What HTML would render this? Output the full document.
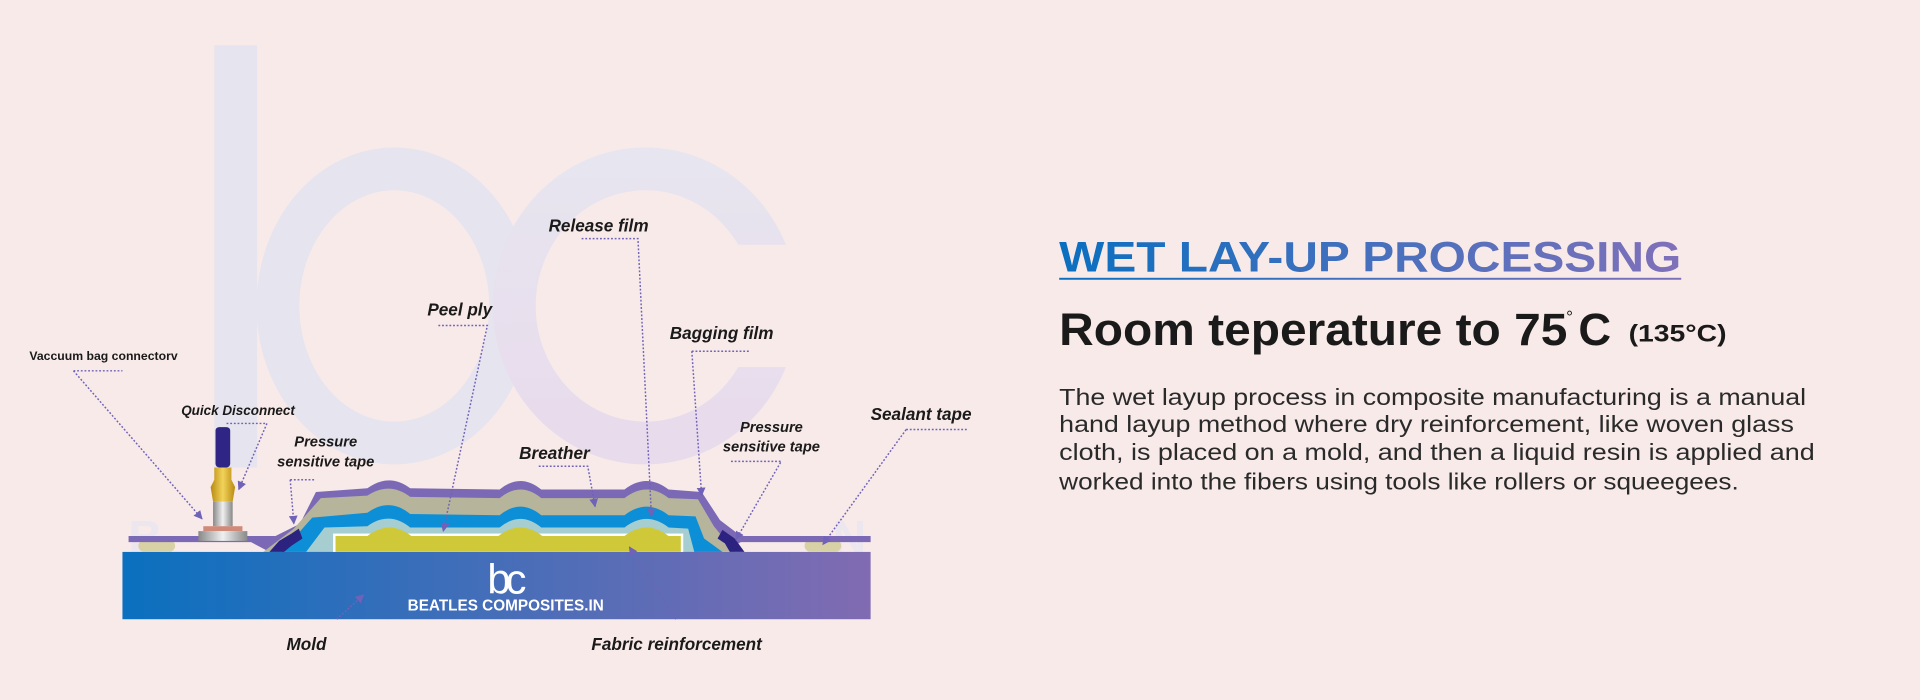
<!DOCTYPE html>
<html><head><meta charset="utf-8"><style>
html,body{margin:0;padding:0;background:#f8eae9;}
svg{display:block}
text{font-family:"Liberation Sans",Arial,sans-serif;}
.lb{font-weight:bold;font-style:italic;fill:#1a1a1a;}
.ld{stroke:#6f62b8;stroke-width:1.2;stroke-dasharray:1.5 1.5;fill:none;}
</style></head><body>
<svg width="1920" height="700" viewBox="0 0 1568 572" preserveAspectRatio="none" xmlns="http://www.w3.org/2000/svg">
<defs>
<linearGradient id="mg" x1="0" x2="1"><stop offset="0" stop-color="#0a70bf"/><stop offset="1" stop-color="#816bb2"/></linearGradient>
<linearGradient id="tg" x1="0" x2="1"><stop offset="0" stop-color="#0a6fc0"/><stop offset="1" stop-color="#8070ba"/></linearGradient>
<linearGradient id="gold" x1="0" x2="1"><stop offset="0" stop-color="#b88a10"/><stop offset="0.5" stop-color="#f2d35a"/><stop offset="1" stop-color="#b88a10"/></linearGradient>
<linearGradient id="silv" x1="0" x2="1"><stop offset="0" stop-color="#888"/><stop offset="0.5" stop-color="#f0f0f0"/><stop offset="1" stop-color="#888"/></linearGradient>
<linearGradient id="cg" x1="0" y1="0" x2="0" y2="1"><stop offset="0" stop-color="#e7e5ef"/><stop offset="1" stop-color="#e8dbec"/></linearGradient>
<marker id="ar" viewBox="0 0 10 10" refX="9" refY="5" markerWidth="6" markerHeight="6" orient="auto"><path d="M0,0 L10,5 L0,10 z" fill="#6f62b8"/></marker>
</defs>
<rect width="1568" height="572" fill="#f8eae9"/>
<!-- watermark -->
<rect x="175" y="37" width="35" height="345" fill="#e6e4ee"/>
<ellipse cx="322" cy="250" rx="95" ry="112" fill="none" stroke="#e6e4ee" stroke-width="35"/>
<ellipse cx="527" cy="250" rx="107" ry="112" fill="none" stroke="url(#cg)" stroke-width="35"/>
<rect x="600" y="200" width="60" height="100" fill="#f8eae9"/>
<text x="105" y="452" font-size="38" fill="#ece6ee" font-weight="bold">B</text>
<text x="680" y="452" font-size="38" fill="#ece6ee" font-weight="bold">N</text>
<!-- mold -->
<rect x="100" y="451" width="611" height="55" fill="url(#mg)"/>
<text x="398" y="485" font-size="34" fill="#fff" font-weight="300" letter-spacing="-4">bc</text>
<text x="413" y="499" font-size="12.5" fill="#fff" font-weight="bold" text-anchor="middle">BEATLES COMPOSITES.IN</text>
<!-- sealant tape -->
<rect x="113" y="441" width="30" height="10" rx="5" fill="#d9d1a6"/>
<rect x="657" y="441" width="30" height="10" rx="5" fill="#d9d1a6"/>
<!-- bag film + breather -->
<path d="M105,438 L225,438 L245,428 L258,402 L300,399 Q318,386 335,399 L408,400 Q425,386 442,400 L510,400 Q528,386 546,400 L573,402 L588,425 L605,438 L711,438 L711,443 L605,443 L590,451 L220,451 L205,443 L105,443 Z" fill="#7c69b6"/>
<path d="M215,451 L240,432 L262,407 L300,405 Q318,393 335,406 L408,407 Q425,393 442,407 L510,407 Q528,393 546,407 L570,408 L583,430 L600,451 Z" fill="#b6b49b"/>
<!-- release film -->
<path d="M230,451 L255,423 L300,419 Q318,406 335,420 L408,421 Q425,407 442,421 L510,421 Q528,407 546,421 L568,422 L575,440 L590,451 Z" fill="#0c8fd6"/>
<!-- peel ply -->
<path d="M250,451 L265,431 L300,430 Q318,417 335,431 L408,431 Q425,417 442,431 L510,431 Q528,417 546,431 L562,432 L567,451 Z" fill="#a6cdd0"/>
<!-- fabric -->
<rect x="272" y="436" width="286" height="15" fill="#fff"/>
<path d="M274,451 L274,438 L300,438 Q318,424 336,438 L407,438 Q425,424 443,438 L510,438 Q528,424 546,438 L556,438 L556,451 Z" fill="#cfc93a"/>
<!-- pressure tapes -->
<path d="M220,451 L228,442 L238,436 L244,432 L247,440 L238,446 L232,451 Z" fill="#2c2280"/>
<path d="M590,433 L600,440 L608,451 L596,451 L592,444 L586,440 Z" fill="#2c2280"/>
<!-- quick disconnect -->
<rect x="176" y="349" width="12" height="33" rx="3" fill="#2e2585"/>
<path d="M175,382 L189,382 L189,392 L192,398 L190,410 L174,410 L172,398 L175,392 Z" fill="url(#gold)"/>
<rect x="174" y="410" width="16" height="20" fill="url(#silv)"/>
<rect x="166" y="430" width="32" height="4" fill="#d08a7a"/>
<rect x="162" y="434" width="40" height="8" fill="url(#silv)"/>
<!-- leaders -->
<g class="ld">
<path d="M60,303 L100,303"/><path d="M60,303 L165,424" marker-end="url(#ar)"/>
<path d="M185,346 L218,346 L195,400" marker-end="url(#ar)"/>
<path d="M237,392 L257,392"/><path d="M237,392 L240,428" marker-end="url(#ar)"/>
<path d="M358,266 L398,266 L362,434" marker-end="url(#ar)"/>
<path d="M475,195 L521,195 L532,422" marker-end="url(#ar)"/>
<path d="M565,287 L612,287"/><path d="M565,287 L573,405" marker-end="url(#ar)"/>
<path d="M440,381 L480,381 L486,414" marker-end="url(#ar)"/>
<path d="M597,377 L638,377 L601,441" marker-end="url(#ar)"/>
<path d="M740,351 L790,351"/><path d="M740,351 L672,445" marker-end="url(#ar)"/>
<path d="M275,506 L297,486" marker-end="url(#ar)"/>
<path d="M552,506 L514,447" marker-end="url(#ar)"/>
</g>
<!-- labels -->
<text x="24" y="294" font-size="10" font-weight="bold" fill="#1a1a1a">Vaccuum bag connectorv</text>
<text x="148" y="339" font-size="11" class="lb">Quick Disconnect</text>
<text x="266" y="365" font-size="12" class="lb" text-anchor="middle">Pressure</text>
<text x="266" y="381" font-size="12" class="lb" text-anchor="middle">sensitive tape</text>
<text x="349" y="258" font-size="14" class="lb">Peel ply</text>
<text x="448" y="189" font-size="14" class="lb">Release film</text>
<text x="547" y="277" font-size="14" class="lb">Bagging film</text>
<text x="424" y="375" font-size="14" class="lb">Breather</text>
<text x="630" y="353" font-size="12" class="lb" text-anchor="middle">Pressure</text>
<text x="630" y="369" font-size="12" class="lb" text-anchor="middle">sensitive tape</text>
<text x="711" y="343" font-size="14" class="lb">Sealant tape</text>
<text x="234" y="531" font-size="14" class="lb">Mold</text>
<text x="483" y="531" font-size="14" class="lb">Fabric reinforcement</text>
<!-- right text -->
<text x="865" y="222" font-size="35" font-weight="bold" fill="url(#tg)" textLength="508" lengthAdjust="spacingAndGlyphs">WET LAY-UP PROCESSING</text>
<rect x="865" y="227" width="508" height="1.6" fill="url(#tg)"/>
<text x="865" y="282" font-size="37" font-weight="bold" fill="#1a1a1a" textLength="415" lengthAdjust="spacingAndGlyphs">Room teperature to 75</text>
<text x="1279" y="264" font-size="14" fill="#1a1a1a">°</text>
<text x="1289" y="282" font-size="37" font-weight="bold" fill="#1a1a1a">C</text>
<text x="1330" y="279" font-size="20" font-weight="bold" fill="#1a1a1a" textLength="80" lengthAdjust="spacingAndGlyphs">(135°C)</text>
<g font-size="19" fill="#2a2a2a">
<text x="865" y="331" textLength="610" lengthAdjust="spacingAndGlyphs">The wet layup process in composite manufacturing is a manual</text>
<text x="865" y="353" textLength="600" lengthAdjust="spacingAndGlyphs">hand layup method where dry reinforcement, like woven glass</text>
<text x="865" y="376" textLength="617" lengthAdjust="spacingAndGlyphs">cloth, is placed on a mold, and then a liquid resin is applied and</text>
<text x="865" y="400" textLength="555" lengthAdjust="spacingAndGlyphs">worked into the fibers using tools like rollers or squeegees.</text>
</g>
</svg>
</body></html>
